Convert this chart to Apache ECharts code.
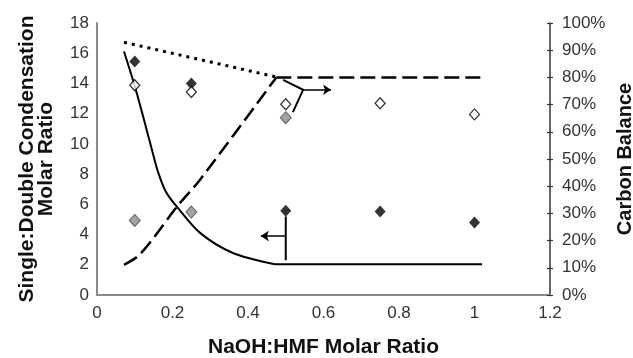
<!DOCTYPE html>
<html>
<head>
<meta charset="utf-8">
<script src="https://cdn.jsdelivr.net/npm/echarts@6/dist/echarts.min.js"></script>
<style>
  html, body { margin: 0; padding: 0; background: #fff; }
  #chart { width: 633px; height: 358px; }
</style>
</head>
<body>
<div id="chart"></div>
<script>
// solid curve: single:double ratio model (left axis)
const solidX = [0.0715, 0.1007, 0.1245, 0.1457, 0.1616, 0.1828, 0.212, 0.273, 0.36, 0.4715];
const solidY = [16.11, 13.77, 11.59, 9.6, 8.15, 6.82, 5.83, 4.11, 2.78, 2.03];
const solidFlatX = [0.4715, 1.02];
const solidFlatY = [2.03, 2.03];

// dashed + dotted: carbon balance model (right axis, %)
const dashX = [0.0715, 0.106, 0.14, 0.212, 0.273, 0.475];
const dashY = [11.1, 14.0, 19.2, 32.5, 42.4, 80];
const dashFlatX = [0.475, 1.02];
const dashFlatY = [80, 80];
const dotX = [0.0715, 0.48];
const dotY = [92.9, 80];

// measured points
const ptX = [0.1, 0.25, 0.5, 0.75, 1.0];
const ratioPts = [15.45, 14.0, 5.58, 5.52, 4.79];      // black, left axis
const carbonPts = [77.1, 74.6, 70.1, 70.5, 66.4];     // open, right axis
const grayX = [0.1, 0.25, 0.5];
const grayPts = [27.4, 30.5, 65.2];                   // gray, right axis

// annotation arrows (left-axis coords)
const leftArrowStem = [[0.5, 5.2], [0.5, 2.3]];
const leftArrow = [[0.5, 3.9], [0.434, 3.9]];
const rightArrowStem = [[0.493, 14.24], [0.546, 13.58], [0.519, 12.1]];
const rightArrow = [[0.546, 13.58], [0.62, 13.58]];

const xTicks = { min: 0, max: 1.2, interval: 0.2 };
const leftTicks = { min: 0, max: 18, interval: 2 };
const rightTicks = { min: 0, max: 100, interval: 10 };

const FONT = "'Liberation Sans', Arial, sans-serif";
const zip = (xs, ys) => xs.map((x, i) => [x, ys[i]]);

const chart = echarts.init(document.getElementById('chart'), null, { renderer: 'canvas' });

const nameText = { fontFamily: FONT, fontSize: 21, fontWeight: 'bold', color: '#111' };

const option = {
    animation: false,
    backgroundColor: '#fff',
    grid: { left: 97, right: 83, top: 23, bottom: 63, containLabel: false, outerBoundsMode: 'none' },
    xAxis: {
        type: 'value',
        min: xTicks.min, max: xTicks.max, interval: xTicks.interval,
        name: 'NaOH:HMF Molar Ratio',
        nameLocation: 'middle',
        nameGap: 42,
        nameMoveOverlap: false,
        nameTextStyle: nameText,
        axisLine: { lineStyle: { color: '#8a8a8a', width: 2 } },
        axisTick: { show: false },
        splitLine: { show: false },
        axisLabel: { margin: 10, fontFamily: FONT, fontSize: 17, color: '#333' }
    },
    yAxis: [{
        type: 'value',
        position: 'left',
        min: leftTicks.min, max: leftTicks.max, interval: leftTicks.interval,
        name: 'Single:Double Condensation\nMolar Ratio',
        nameLocation: 'middle',
        nameRotate: 90,
        nameGap: 41,
        nameMoveOverlap: false,
        nameTextStyle: Object.assign({ lineHeight: 19 }, nameText),
        axisLine: { show: true, lineStyle: { color: '#8a8a8a', width: 2 } },
        axisTick: { show: false },
        splitLine: { show: false },
        axisLabel: { margin: 8, fontFamily: FONT, fontSize: 17, color: '#333' }
    }, {
        type: 'value',
        position: 'right',
        min: rightTicks.min, max: rightTicks.max, interval: rightTicks.interval,
        name: 'Carbon Balance',
        nameLocation: 'middle',
        nameRotate: 90,
        nameGap: 65,
        nameMoveOverlap: false,
        nameTextStyle: Object.assign({}, nameText, { fontSize: 20 }),
        axisLine: { show: true, lineStyle: { color: '#333', width: 1.5 } },
        axisTick: { show: true, length: 3, lineStyle: { color: '#333', width: 1.2 } },
        splitLine: { show: false },
        axisLabel: { margin: 12, formatter: '{value}%', fontFamily: FONT, fontSize: 17, color: '#333' }
    }, {
        // inner half of the crossing ticks on the right axis
        type: 'value',
        position: 'right',
        min: rightTicks.min, max: rightTicks.max, interval: rightTicks.interval,
        axisLine: { show: false },
        axisTick: { show: true, inside: true, length: 3, lineStyle: { color: '#333', width: 1.2 } },
        splitLine: { show: false },
        axisLabel: { show: false }
    }],
    series: [{
        type: 'line',
        yAxisIndex: 0,
        data: zip(solidX, solidY),
        smooth: 0.3,
        symbol: 'none',
        lineStyle: { color: '#000', width: 2 }
    }, {
        type: 'line',
        yAxisIndex: 0,
        data: zip(solidFlatX, solidFlatY),
        symbol: 'none',
        lineStyle: { color: '#000', width: 2 }
    }, {
        type: 'line',
        yAxisIndex: 1,
        data: zip(dashX, dashY),
        smooth: 0.3,
        symbol: 'none',
        lineStyle: { color: '#000', width: 2.5, type: [15, 6] }
    }, {
        type: 'line',
        yAxisIndex: 1,
        data: zip(dashFlatX, dashFlatY),
        symbol: 'none',
        lineStyle: { color: '#000', width: 2.5, type: [15, 6] }
    }, {
        type: 'line',
        yAxisIndex: 1,
        data: zip(dotX, dotY),
        symbol: 'none',
        lineStyle: { color: '#000', width: 3, type: [3, 5] }
    }, {
        type: 'scatter',
        yAxisIndex: 0,
        data: zip(ptX, ratioPts),
        symbol: 'diamond',
        symbolSize: [11, 12],
        itemStyle: { color: '#000' },
        z: 5
    }, {
        type: 'scatter',
        yAxisIndex: 1,
        data: zip(ptX, carbonPts),
        symbol: 'diamond',
        symbolSize: [10, 11],
        itemStyle: { color: '#fff', borderColor: '#000', borderWidth: 1.3 },
        z: 5
    }, {
        type: 'scatter',
        yAxisIndex: 1,
        data: zip(grayX, grayPts),
        symbol: 'diamond',
        symbolSize: [11, 12],
        itemStyle: { color: '#8c8c8c', borderColor: '#444', borderWidth: 1 },
        z: 5
    }, {
        type: 'lines',
        coordinateSystem: 'cartesian2d',
        yAxisIndex: 0,
        polyline: true,
        symbol: 'none',
        lineStyle: { color: '#000', width: 2, opacity: 1 },
        data: [{ coords: leftArrowStem }, { coords: rightArrowStem }]
    }, {
        type: 'lines',
        coordinateSystem: 'cartesian2d',
        yAxisIndex: 0,
        symbol: ['none', 'arrow'],
        symbolSize: 8,
        lineStyle: { color: '#000', width: 1.5, opacity: 1 },
        data: [{ coords: leftArrow }, { coords: rightArrow }]
    }]
};

chart.setOption(option);
</script>
</body>
</html>
